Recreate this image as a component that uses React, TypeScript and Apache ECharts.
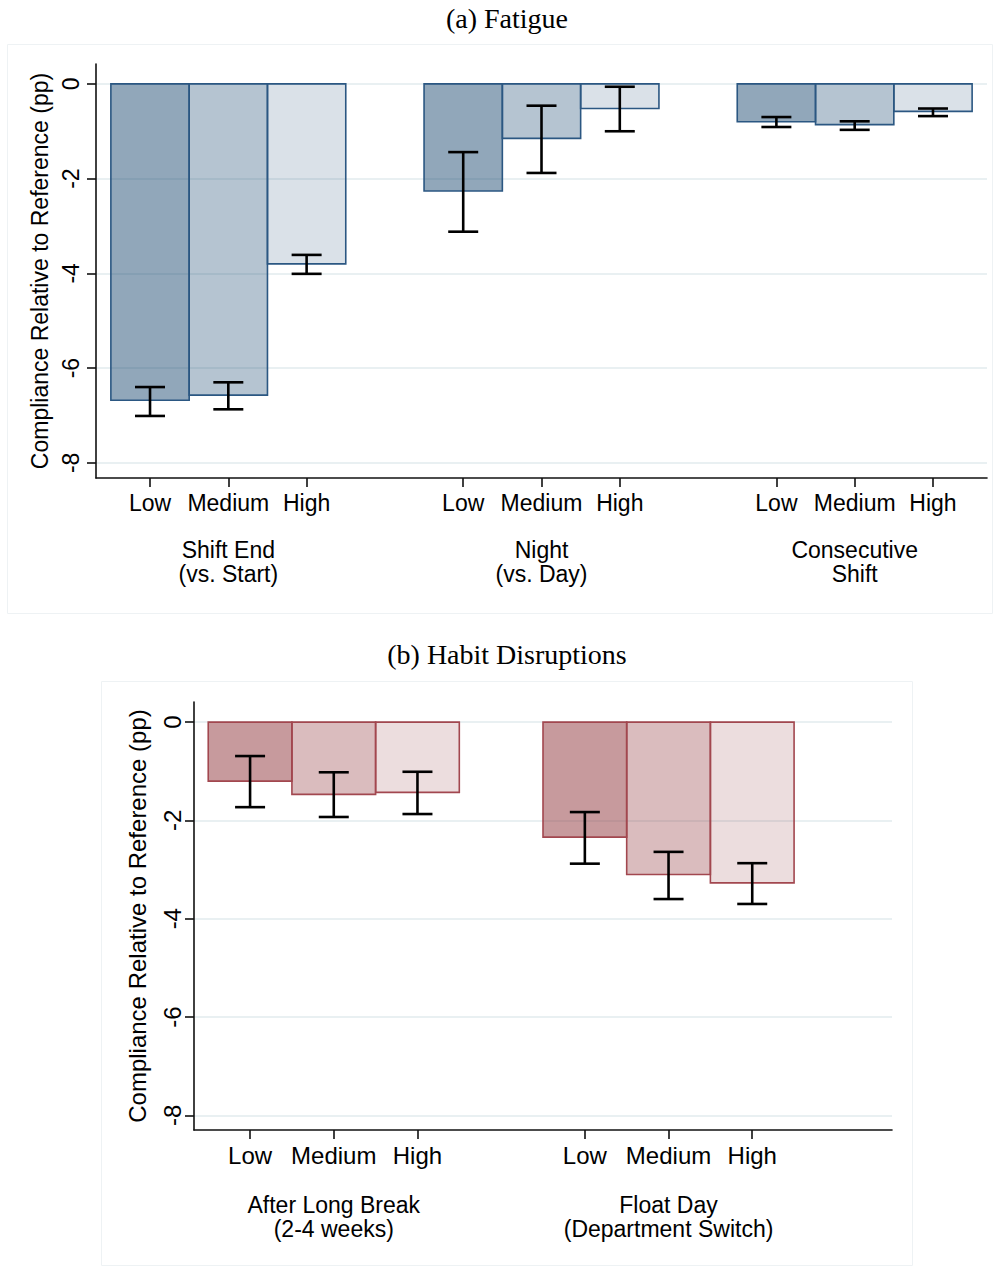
import React, { useEffect, useRef } from "react";
import * as echarts from "echarts";

// ---------- data ----------
const levels = ["Low", "Medium", "High"];
const yTicks = [-8, -6, -4, -2, 0];

const fatigueGroups = ["Shift End\n(vs. Start)", "Night\n(vs. Day)", "Consecutive\nShift"];
const fatigueMean = [
  [-6.68, -6.57, -3.8],
  [-2.26, -1.15, -0.52],
  [-0.8, -0.86, -0.58],
];
const fatigueCiUpper = [
  [-6.4, -6.3, -3.61],
  [-1.44, -0.46, -0.06],
  [-0.7, -0.79, -0.52],
];
const fatigueCiLower = [
  [-7.01, -6.87, -4.01],
  [-3.12, -1.88, -1.0],
  [-0.91, -0.97, -0.68],
];

const habitGroups = ["After Long Break\n(2-4 weeks)", "Float Day\n(Department Switch)"];
const habitMean = [
  [-1.2, -1.47, -1.43],
  [-2.34, -3.1, -3.27],
];
const habitCiUpper = [
  [-0.69, -1.02, -1.01],
  [-1.83, -2.64, -2.87],
];
const habitCiLower = [
  [-1.73, -1.93, -1.87],
  [-2.88, -3.6, -3.7],
];

// ---------- helpers ----------
const SANS = "'Liberation Sans', Arial, Helvetica, sans-serif";
const SERIF = "'Liberation Serif', 'Times New Roman', serif";
const AXIS_COLOR = "#111";
const GRID_COLOR = "#e9f0f2";

const blueFills = ["rgba(26,71,111,0.48)", "rgba(26,71,111,0.32)", "rgba(26,71,111,0.16)"];
const blueBorder = "#2b5782";
const redFills = ["rgba(144,53,59,0.5)", "rgba(144,53,59,0.33)", "rgba(144,53,59,0.17)"];
const redBorder = "#a2474f";

function slot(g: number, l: number) {
  return g * 4 + l;
}

function buildData(mean: number[][], lo: number[][], hi: number[][]) {
  const out: number[][] = [];
  mean.forEach((row, g) =>
    row.forEach((v, l) => {
      out.push([slot(g, l), v, lo[g][l], hi[g][l], l]);
    })
  );
  return out;
}

function makeRender(fills: string[], border: string) {
  return (_params: any, api: any) => {
    const x = api.value(0);
    const v = api.value(1);
    const lo = api.value(2);
    const hi = api.value(3);
    const lvl = api.value(4);
    const a = api.coord([x - 0.5, 0]);
    const b = api.coord([x + 0.5, v]);
    const cLo = api.coord([x, lo]);
    const cHi = api.coord([x, hi]);
    const cap = 15;
    const lw = 2.6;
    return {
      type: "group",
      children: [
        {
          type: "rect",
          shape: {
            x: Math.min(a[0], b[0]),
            y: Math.min(a[1], b[1]),
            width: Math.abs(b[0] - a[0]),
            height: Math.abs(b[1] - a[1]),
          },
          style: { fill: fills[lvl], stroke: border, lineWidth: 1.6 },
        },
        {
          type: "line",
          shape: { x1: cLo[0], y1: cLo[1], x2: cHi[0], y2: cHi[1] },
          style: { stroke: "#000", lineWidth: lw },
        },
        {
          type: "line",
          shape: { x1: cLo[0] - cap, y1: cLo[1], x2: cLo[0] + cap, y2: cLo[1] },
          style: { stroke: "#000", lineWidth: lw },
        },
        {
          type: "line",
          shape: { x1: cHi[0] - cap, y1: cHi[1], x2: cHi[0] + cap, y2: cHi[1] },
          style: { stroke: "#000", lineWidth: lw },
        },
      ],
    };
  };
}

function makeXAxes(
  gridIndex: number,
  groups: string[],
  xmin: number,
  xmax: number,
  fs: number,
  groupFs: number,
  labelMargin: number,
  groupMargin: number
) {
  const positions: number[] = [];
  groups.forEach((_, g) => levels.forEach((_, l) => positions.push(slot(g, l))));
  const centers = groups.map((_, g) => slot(g, 1));
  return [
    {
      type: "value",
      gridIndex,
      min: xmin,
      max: xmax,
      position: "bottom",
      axisLine: { show: true, onZero: false, lineStyle: { color: AXIS_COLOR, width: 1.6 } },
      axisTick: {
        show: true,
        customValues: positions,
        length: 9,
        lineStyle: { color: AXIS_COLOR, width: 1.6 },
      },
      axisLabel: {
        customValues: positions,
        formatter: (v: number) => levels[Math.round(v) % 4] ?? "",
        fontSize: fs,
        fontFamily: SANS,
        color: "#000",
        margin: labelMargin,
      },
      splitLine: { show: false },
    },
    {
      type: "value",
      gridIndex,
      min: xmin,
      max: xmax,
      position: "bottom",
      offset: 0,
      axisLine: { show: false, onZero: false },
      axisTick: { show: false, customValues: centers },
      axisLabel: {
        customValues: centers,
        formatter: (v: number) => groups[Math.round((v - 1) / 4)] ?? "",
        fontSize: groupFs,
        fontFamily: SANS,
        color: "#000",
        lineHeight: 24,
        margin: groupMargin,
      },
      splitLine: { show: false },
    },
  ];
}

function makeYAxis(
  gridIndex: number,
  ymin: number,
  ymax: number,
  fs: number,
  labelMargin: number,
  nameGap: number
) {
  return {
    type: "value",
    gridIndex,
    min: ymin,
    max: ymax,
    name: "Compliance Relative to Reference (pp)",
    nameLocation: "middle",
    nameRotate: 90,
    nameGap,
    nameTextStyle: { fontSize: fs, fontFamily: SANS, color: "#000" },
    axisLine: { show: true, onZero: false, lineStyle: { color: AXIS_COLOR, width: 1.6 } },
    axisTick: {
      show: true,
      customValues: yTicks,
      length: 9,
      lineStyle: { color: AXIS_COLOR, width: 1.6 },
    },
    axisLabel: {
      customValues: yTicks,
      rotate: 90,
      formatter: (v: number) => String(v),
      fontSize: fs,
      fontFamily: SANS,
      color: "#000",
      margin: labelMargin,
    },
    splitLine: { show: true, lineStyle: { color: GRID_COLOR, width: 2 } },
  };
}

export default function App() {
  const ref = useRef<HTMLDivElement>(null);

  useEffect(() => {
    if (!ref.current) return;
    const chart = echarts.init(ref.current, undefined, { renderer: "svg" });

    const option: any = {
      animation: false,
      backgroundColor: "#ffffff",
      grid: [
        { left: 96, top: 64, width: 891, height: 414, containLabel: false },
        { left: 194, top: 702, width: 698, height: 428, containLabel: false },
      ],
      xAxis: [
        ...makeXAxes(0, fatigueGroups, -0.69, 10.69, 23, 23, 13, 60),
        ...makeXAxes(1, habitGroups, -0.67, 7.67, 24, 23, 13, 63),
      ],
      yAxis: [makeYAxis(0, -8.32, 0.42, 23, 14, 44), makeYAxis(1, -8.3, 0.41, 24, 10, 45)],
      graphic: [
        {
          type: "rect",
          silent: true,
          z: -10,
          shape: { x: 7.5, y: 44.5, width: 985, height: 569 },
          style: { fill: "none", stroke: "#eef2f4", lineWidth: 1 },
        },
        {
          type: "rect",
          silent: true,
          z: -10,
          shape: { x: 101.5, y: 681.5, width: 811, height: 584 },
          style: { fill: "none", stroke: "#eef2f4", lineWidth: 1 },
        },
        {
          type: "text",
          x: 507,
          y: 18,
          style: {
            text: "(a) Fatigue",
            fontSize: 28,
            fontFamily: SERIF,
            fill: "#000",
            textAlign: "center",
            textVerticalAlign: "middle",
            align: "center",
            verticalAlign: "middle",
          },
        },
        {
          type: "text",
          x: 507,
          y: 654,
          style: {
            text: "(b) Habit Disruptions",
            fontSize: 28,
            fontFamily: SERIF,
            fill: "#000",
            textAlign: "center",
            textVerticalAlign: "middle",
            align: "center",
            verticalAlign: "middle",
          },
        },
      ],
      series: [
        {
          type: "custom",
          xAxisIndex: 0,
          yAxisIndex: 0,
          renderItem: makeRender(blueFills, blueBorder),
          encode: { x: 0, y: 1 },
          data: buildData(fatigueMean, fatigueCiLower, fatigueCiUpper),
        },
        {
          type: "custom",
          xAxisIndex: 2,
          yAxisIndex: 1,
          renderItem: makeRender(redFills, redBorder),
          encode: { x: 0, y: 1 },
          data: buildData(habitMean, habitCiLower, habitCiUpper),
        },
      ],
    };

    chart.setOption(option);
    return () => chart.dispose();
  }, []);

  return (
    <div
      ref={ref}
      style={{ position: "absolute", left: 0, top: 0, width: 997, height: 1268 }}
    />
  );
}
